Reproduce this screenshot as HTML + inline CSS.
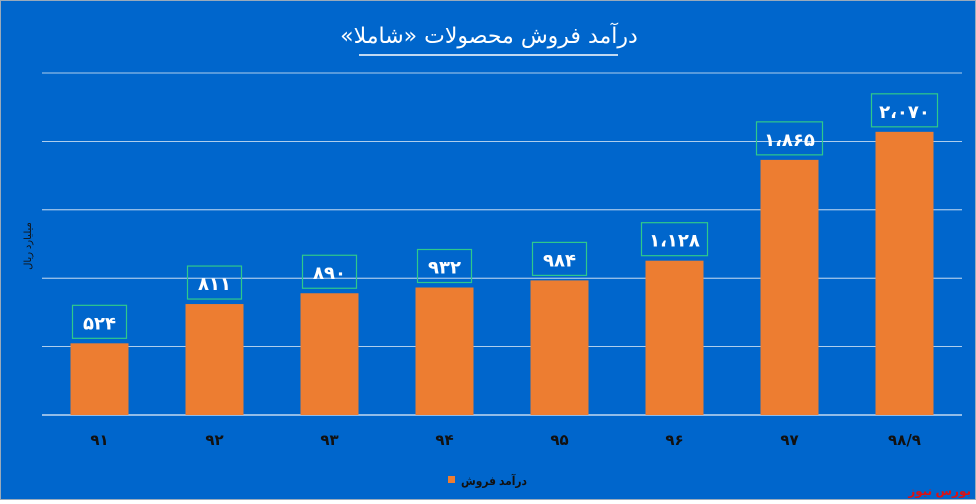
<!DOCTYPE html>
<html><head><meta charset="utf-8">
<style>
html,body{margin:0;padding:0;}
body{width:976px;height:500px;background:#fff;overflow:hidden;font-family:"Liberation Sans","DejaVu Sans",sans-serif;}
#wrap{position:absolute;left:0;top:0;width:974px;height:498px;background:#0066cc;border:1px solid #9ab;}
</style></head>
<body>
<div id="wrap">
<svg id="chart" width="974" height="498" xmlns="http://www.w3.org/2000/svg">
<text x="488" y="42" text-anchor="middle" direction="rtl" unicode-bidi="embed" fill="#fff" font-size="22" font-family="'DejaVu Sans',sans-serif">درآمد فروش محصولات «شاملا»</text>
<line x1="358" y1="54" x2="617" y2="54" stroke="#fff" stroke-width="1.5"/>
<text transform="translate(30,245) rotate(-90)" text-anchor="middle" fill="#111" font-size="10">میلیارد ریال</text>
<g id="grid"></g><g id="bars"></g>
<g>
<rect x="447" y="475" width="7" height="7" fill="#ed7d31"/>
<text x="493" y="484" text-anchor="middle" fill="#111" font-size="12" font-weight="bold" textLength="66" lengthAdjust="spacingAndGlyphs">درآمد فروش</text>
</g>
<text x="970" y="494" text-anchor="end" fill="#e01010" font-size="12" font-weight="bold">بورس نیوز</text>
</svg>
</div>
<script>
const categories=["۹۱","۹۲","۹۳","۹۴","۹۵","۹۶","۹۷","۹۸/۹"];
const values=[524,811,890,932,984,1128,1865,2070];
const valueLabels=["۵۲۴","۸۱۱","۸۹۰","۹۳۲","۹۸۴","۱،۱۲۸","۱،۸۶۵","۲،۰۷۰"];
const yTicks=[0,500,1000,1500,2000,2500];
const NS="http://www.w3.org/2000/svg";
const x0=41,x1=961,yBase=414,yTop=72,yMax=2500;
const step=(x1-x0)/categories.length;
function xc(i){return x0+step*(i+0.5);}
function y(v){return yBase-(v/yMax)*(yBase-yTop);}
function mk(t,a){const e=document.createElementNS(NS,t);for(const k in a)e.setAttribute(k,a[k]);return e;}
const grid=document.getElementById('grid'),bars=document.getElementById('bars');
yTicks.forEach(v=>{const l=mk('line',{x1:x0,x2:x1,y1:y(v),y2:y(v),stroke:'#e8f0f8','stroke-width':v===0?1.2:0.8});


grid.appendChild(l);});
categories.forEach((c,i)=>{
const bw=58,top=y(values[i]);
const r=mk('rect',{x:xc(i)-bw/2,y:top,width:bw,height:yBase-top,fill:'#ed7d31'});


bars.appendChild(r);
const lab=valueLabels[i];const w=lab.length>3?66:54;
const b=mk('rect',{x:xc(i)-w/2,y:top-38,width:w,height:33,fill:'none',stroke:'#2fc98a','stroke-width':1.2});


bars.appendChild(b);
const t=mk('text',{x:xc(i),y:top-14,'text-anchor':'middle',fill:'#fff','font-size':18,'font-weight':'bold','font-family':"'DejaVu Sans',sans-serif",'letter-spacing':5});
t.textContent=lab;


bars.appendChild(t);
const ct=mk('text',{x:xc(i),y:444,'text-anchor':'middle',fill:'#111','font-size':15,'font-weight':'bold','font-family':"'DejaVu Sans',sans-serif"});
ct.textContent=c;


bars.appendChild(ct);
});
</script>
</body></html>
